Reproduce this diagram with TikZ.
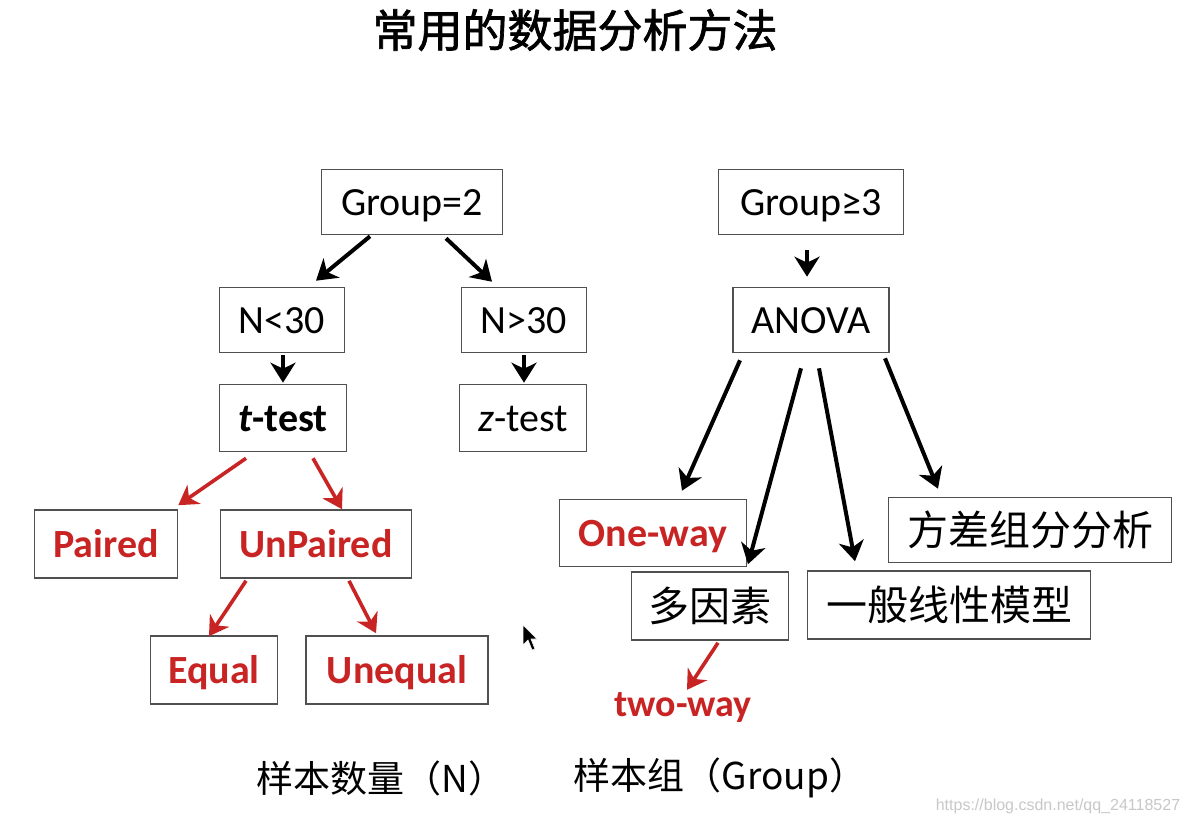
\documentclass[tikz,border=0pt]{standalone}
\usepackage{fontspec}
\setmainfont{Carlito}
\newfontfamily\cjk{Noto Sans CJK SC}
\newfontfamily\cjkt{Noto Sans CJK SC}[FakeBold=1.5]
\newfontfamily\wmfont{Liberation Sans}
\usetikzlibrary{arrows.meta,calc}
\definecolor{redt}{RGB}{200,36,36}
\definecolor{boxc}{RGB}{80,80,80}
\definecolor{wmc}{RGB}{200,200,200}
\begin{document}
\begin{tikzpicture}[x=1pt,y=-1pt,
  bx/.style={draw=boxc,line width=1.6pt,inner sep=0pt,text height=32pt,text depth=6pt,
    font=\fontsize{40}{40}\selectfont},
  cbx/.style={draw=boxc,line width=1.6pt,inner sep=0pt,text height=36pt,text depth=5pt,
    font=\cjk\fontsize{41}{41}\selectfont},
  redtxt/.style={text=redt,font=\fontsize{40}{40}\selectfont\bfseries},
  arr/.style={line width=4pt,-{Stealth[length=20pt,width=25pt,inset=6pt]}},
  rarr/.style={draw=redt,line width=3.6pt,-{Stealth[length=19pt,width=23pt,inset=6pt,fill=redt]}},
]
\useasboundingbox (0,0) rectangle (1190,824);
\fill[white] (0,0) rectangle (1190,824);

% title
\node[font=\cjkt\fontsize{45}{45}\selectfont] (title) at (575,30) {常用的数据分析方法};

% left tree
\node[bx,minimum width=181pt,minimum height=65pt] (g2) at (412,202) {Group=2};
\node[bx,minimum width=125pt,minimum height=65pt] (n1) at (282,320) {N<30};
\node[bx,minimum width=125pt,minimum height=65pt] (n2) at (524,320) {N>30};
\node[bx,minimum width=127pt,minimum height=67pt] (tt) at (283,418) {\bfseries\itshape t\upshape-test};
\node[bx,minimum width=127pt,minimum height=67pt] (zt) at (523,418) {\itshape z\upshape-test};
\node[bx,redtxt,minimum width=143pt,minimum height=68pt] (pa) at (106,544) {Paired};
\node[bx,redtxt,minimum width=191pt,minimum height=68pt] (up) at (316,544) {UnPaired};
\node[bx,redtxt,minimum width=127pt,minimum height=68pt] (eq) at (214,670) {Equal};
\node[bx,redtxt,minimum width=182pt,minimum height=68pt] (ue) at (397,670) {Unequal};

% right tree
\node[bx,minimum width=185pt,minimum height=65pt] (g3) at (811,202) {Group≥3};
\node[bx,minimum width=156pt,minimum height=65pt] (an) at (811,320) {ANOVA};
\node[bx,redtxt,minimum width=187pt,minimum height=67pt] (ow) at (653,533) {One-way};
\node[cbx,minimum width=157pt,minimum height=68pt] (dy) at (710,606) {多因素};
\node[cbx,minimum width=283pt,minimum height=68pt] (gl) at (949,605) {一般线性模型};
\node[cbx,minimum width=283pt,minimum height=65pt] (fc) at (1030,530) {方差组分分析};
\node[redtxt,inner sep=0pt,text height=32pt,text depth=6pt,font=\fontsize{38}{38}\selectfont\bfseries] (tw) at (683,703) {two-way};

% bottom labels
\node[font=\cjk\fontsize{37}{37}\selectfont] (lbn) at (381,778) {样本数量（N）};
\node[font=\cjk\fontsize{37}{37}\selectfont] (lbg) at (720,778) {样本组（Group）};
\node[font=\wmfont\fontsize{16}{16}\selectfont,text=wmc] (wm) at (1058,806) {https://blog.csdn.net/qq\_24118527};

% black arrows
\draw[arr] ($(g2.south)+(-42,1)$) -- ($(n1.north)+(34,-6)$);
\draw[arr] ($(g2.south)+(34,3)$) -- ($(n2.north)+(-32,-5)$);
\draw[arr] ($(n1.south)+(1,2)$) -- ($(tt.north)+(0,-1)$);
\draw[arr] ($(n2.south)+(0,2)$) -- ($(zt.north)+(1,-1)$);
\draw[arr] ($(g3.south)+(-4,15)$) -- ($(an.north)+(-4,-10)$);
\draw[arr] ($(an.south)+(-71,7)$) -- ($(ow.north)+(29,-8)$);
\draw[arr] ($(an.south)+(-10,15)$) -- ($(dy.north)+(38,-7)$);
\draw[arr] ($(an.south)+(8,15)$) -- ($(gl.north)+(-94,-9)$);
\draw[arr] ($(an.south)+(74,5)$) -- ($(fc.north)+(-92,-8)$);

% red arrows
\draw[rarr] ($(tt.south)+(-37,6)$) -- ($(pa.north east)+(0,-4)$);
\draw[rarr] ($(tt.south)+(30,6)$) -- ($(up.north)+(26,0)$);
\draw[rarr] ($(up.south)+(-70,2)$) -- ($(eq.north)+(-5,1)$);
\draw[rarr] ($(up.south)+(33,2)$) -- ($(ue.north)+(-21,-2)$);
\draw[rarr] ($(dy.south)+(8,2)$) -- ($(tw.north)+(4,6)$);

% mouse cursor
\fill[black,draw=white,line width=0.6pt] (523,625) -- (523,645) -- (528,640) -- (532,650) -- (535,649) -- (531,639) -- (537,639) -- cycle;
\end{tikzpicture}
\end{document}
